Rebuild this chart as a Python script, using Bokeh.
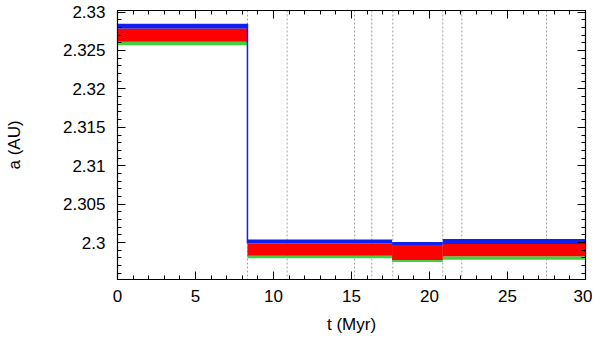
from bokeh.plotting import figure
from bokeh.models import Range1d, LinearAxis, Span, FixedTicker, NumeralTickFormatter
from bokeh.embed import file_html
from bokeh.resources import INLINE

# Segments of the evolution (Myr) with band envelopes of semi-major axis (AU)
seg_start = [0.0, 8.33, 17.6, 20.85]
seg_end = [8.33, 17.6, 20.85, 30.0]
blue_top = [2.32849, 2.30039, 2.30009, 2.30048]
red_top = [2.32783, 2.29991, 2.29970, 2.29983]
red_bot = [2.32612, 2.29830, 2.29774, 2.29821]
green_bot = [2.32567, 2.29795, 2.29748, 2.29778]

# times of events (dotted vertical lines)
event_times = [8.33, 10.87, 15.2, 16.3, 17.65, 20.85, 22.07, 27.5]

x_ticks = [0, 5, 10, 15, 20, 25, 30]
x_minor = list(range(0, 31))
y_ticks = [2.300, 2.305, 2.310, 2.315, 2.320, 2.325, 2.330]
y_minor = [round(2.295 + 0.001 * i, 3) for i in range(0, 36)]

FONT = "Liberation Sans"
FS = "17px"

p = figure(frame_width=468, frame_height=269, output_backend="svg",
           toolbar_location=None, x_range=Range1d(0, 30),
           y_range=Range1d(2.2952, 2.3302),
           min_border_left=117, min_border_right=7, min_border_top=10,
           min_border_bottom=53)
p.grid.visible = False
p.outline_line_color = "black"
p.outline_line_width = 1.2
p.background_fill_color = "white"

for t in event_times:
    p.add_layout(Span(location=t, dimension="height", line_color="#a0a0a0",
                      line_dash="2 2", line_width=1, level="underlay"))

p.quad(left=seg_start, right=seg_end, bottom=red_top, top=blue_top,
       fill_color="#1020f0", line_color=None)
p.quad(left=seg_start, right=seg_end, bottom=green_bot, top=red_bot,
       fill_color="#40d040", line_color=None)
p.quad(left=seg_start, right=seg_end, bottom=red_bot, top=red_top,
       fill_color="#ff0000", line_color=None)
p.segment(x0=[seg_end[0]], y0=[blue_top[0]], x1=[seg_end[0]], y1=[red_top[1]],
          line_color="#1020f0", line_width=1.5)

xt = FixedTicker(ticks=x_ticks, minor_ticks=x_minor)
yt = FixedTicker(ticks=y_ticks, minor_ticks=y_minor)


def style(ax, labels=True):
    ax.major_tick_in = 8
    ax.major_tick_out = 0
    ax.minor_tick_in = 4
    ax.minor_tick_out = 0
    ax.axis_line_color = "black"
    ax.major_tick_line_color = "black"
    ax.minor_tick_line_color = "black"
    ax.major_label_text_font = FONT
    ax.major_label_text_font_size = FS
    ax.major_label_text_color = "black"
    ax.axis_label_text_font = FONT
    ax.axis_label_text_font_size = FS
    ax.axis_label_text_font_style = "normal"
    ax.axis_label_text_color = "black"
    if not labels:
        ax.major_label_text_font_size = "1px"
        ax.major_label_text_color = None
        ax.major_label_standoff = 0


p.xaxis.ticker = xt
p.yaxis.ticker = yt
p.yaxis.formatter = NumeralTickFormatter(format="0.[000]")
p.xaxis.axis_label = "t (Myr)"
p.yaxis.axis_label = "a (AU)"
style(p.xaxis[0])
style(p.yaxis[0])
p.xaxis.major_label_standoff = 10
p.xaxis.axis_label_standoff = 10
p.yaxis.major_label_standoff = 12
p.yaxis.axis_label_standoff = 36

top_ax = LinearAxis(ticker=xt)
style(top_ax, labels=False)
p.add_layout(top_ax, "above")
right_ax = LinearAxis(ticker=yt)
style(right_ax, labels=False)
p.add_layout(right_ax, "right")

open("out.html", "w").write(file_html(p, INLINE))
